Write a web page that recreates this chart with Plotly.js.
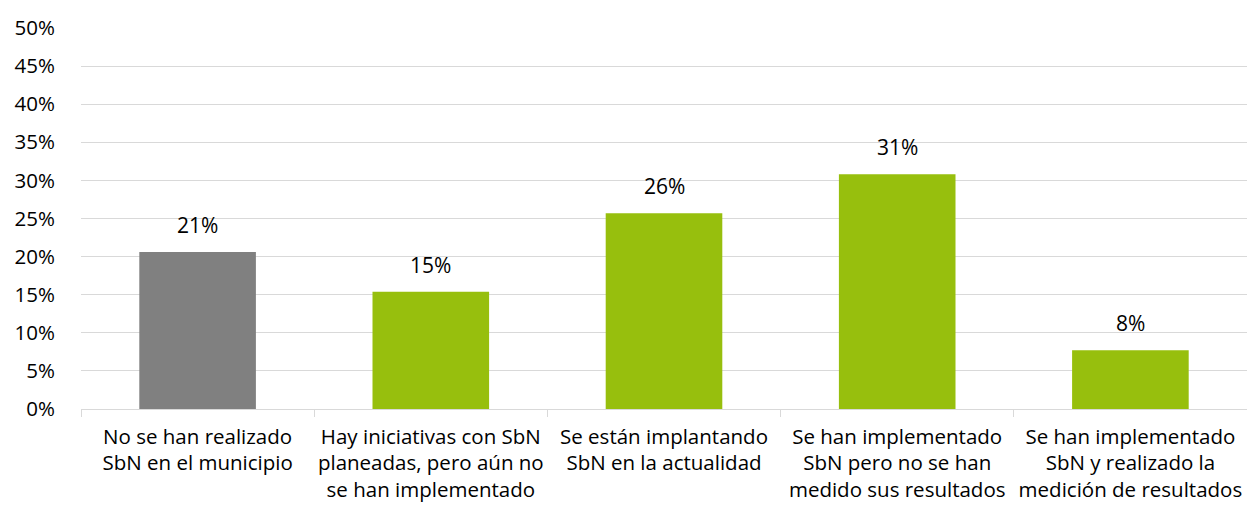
<!DOCTYPE html>
<html>
<head>
<meta charset="utf-8">
<script src="https://cdn.plot.ly/plotly-3.0.1.min.js"></script>
<style>html,body{margin:0;padding:0;background:#fff;}#chart{width:1247px;height:507px;}</style>
</head>
<body>
<div id="chart"></div>
<script>
var categories = [
  "No se han realizado<br>SbN en el municipio",
  "Hay iniciativas con SbN<br>planeadas, pero aún no<br>se han implementado",
  "Se están implantando<br>SbN en la actualidad",
  "Se han implementado<br>SbN pero no se han<br>medido sus resultados",
  "Se han implementado<br>SbN y realizado la<br>medición de resultados"
];
var values = [0.206, 0.154, 0.257, 0.308, 0.077];
var valueLabels = ["21%", "15%", "26%", "31%", "8%"];
var barColors = ["#808080", "#97BF0D", "#97BF0D", "#97BF0D", "#97BF0D"];
var yTickValues = [0, 0.05, 0.10, 0.15, 0.20, 0.25, 0.30, 0.35, 0.40, 0.45, 0.50];

var fontFam = "'Open Sans', sans-serif";
var annots = categories.map(function(c, i){
  return {x: c, y: values[i], xref: "x", yref: "y", text: valueLabels[i],
          showarrow: false, yanchor: "bottom", yshift: 11,
          font: {family: fontFam, size: 21, color: "#000"}};
});
Plotly.newPlot("chart", [{
  type: "bar",
  x: categories,
  y: values,
  marker: {color: barColors},
  width: 0.5,
  hoverinfo: "none"
}], {
  width: 1247,
  height: 507,
  margin: {l: 81, r: 0, t: 28, b: 98},
  paper_bgcolor: "#fff",
  plot_bgcolor: "#fff",
  showlegend: false,
  font: {family: fontFam, size: 20, color: "#000"},
  annotations: annots,
  xaxis: {
    type: "category",
    showline: true,
    linecolor: "#d9d9d9",
    linewidth: 1,
    ticks: "outside",
    tickson: "boundaries",
    ticklen: 7,
    tickcolor: "#d9d9d9",
    tickangle: 0,
    tickfont: {family: fontFam, size: 20.5, color: "#000"},
    ticklabelstandoff: 9,
    showgrid: false
  },
  yaxis: {
    range: [0, 0.5],
    tickvals: yTickValues,
    tickformat: ".0%",
    showgrid: true,
    gridcolor: "#d9d9d9",
    gridwidth: 1,
    zeroline: false,
    showline: false,
    ticks: "",
    tickfont: {family: fontFam, size: 20.5, color: "#000"},
    ticklabelstandoff: 25
  }
}, {staticPlot: true});
</script>
</body>
</html>
